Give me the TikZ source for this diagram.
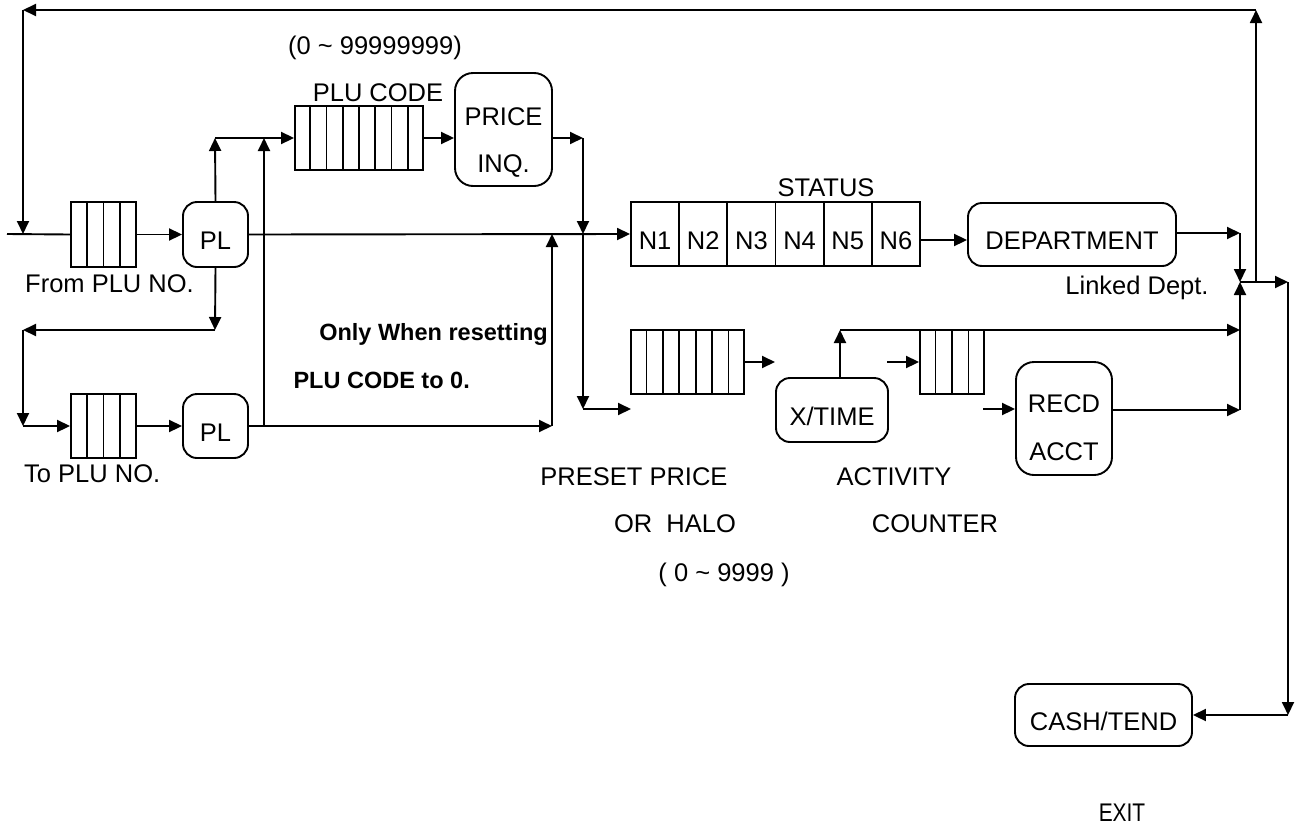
\documentclass[tikz,border=0pt]{standalone}
\usepackage{fontspec}
\setmainfont{Liberation Sans}
\usepackage{graphicx}
\usetikzlibrary{arrows.meta,calc}
\newcommand{\regdiv}[2]{%
  \pgfmathtruncatemacro{\rdlast}{#2-1}%
  \foreach \k in {1,...,\rdlast}{%
    \draw[ln] ($(#1.north west)!\k/#2!(#1.north east)$) -- ($(#1.south west)!\k/#2!(#1.south east)$);}%
}
\begin{document}
\begin{tikzpicture}[x=1pt,y=-1pt,
  every node/.style={font=\fontsize{25.5}{30}\selectfont, inner sep=0pt},
  ln/.style={line width=1.9pt},
  arr/.style={ln, -{Triangle[length=13pt,width=12pt]}},
  reg/.style={draw, line width=1.9pt, minimum height=64pt},
  rbox/.style={draw, line width=1.9pt, rounded corners=14pt, text height=30pt, text depth=0pt},
  cell/.style={reg, minimum width=48.1667pt, text height=30pt, text depth=0pt},
  lbl/.style={text height=18pt, text depth=0pt},
  bld/.style={lbl, font=\fontsize{23.5}{28}\selectfont\bfseries, text height=16.8pt}
]
\useasboundingbox (0,0) rectangle (1295,825);

% ---- boxes and registers
\node[reg, minimum width=65pt, minimum height=65pt] (r1) at (103.5,234.5) {};
\regdiv{r1}{4}
\node[rbox, minimum width=65pt, minimum height=65pt] (pl1) at (215.5,234.5) {PL};
\node[reg, minimum width=65pt, minimum height=64pt] (r2) at (103.5,426) {};
\regdiv{r2}{4}
\node[rbox, minimum width=65pt, minimum height=64pt] (pl2) at (215.5,426) {PL};
\node[reg, minimum width=128pt] (plu) at (359,138) {};
\regdiv{plu}{8}
\node[rbox, rounded corners=18pt, minimum width=97pt, minimum height=113pt] (price) at (503.5,129.5) {};
\node[lbl] (priceA) at (503.5,116) {PRICE};
\node[lbl] (priceB) at (503.5,163) {INQ.};
\foreach \i in {1,...,6}
  \node[cell] (n\i) at ({631+(\i-0.5)*48.1667},234) {N\i};
\node[rbox, minimum width=208pt, minimum height=63pt] (dept) at (1072,234.5) {DEPARTMENT};
\node[reg, minimum width=113pt] (preset) at (687.5,362) {};
\regdiv{preset}{7}
\node[rbox, minimum width=112pt, minimum height=64pt] (xtime) at (832,410) {X/TIME};
\node[reg, minimum width=64pt] (act) at (952,362) {};
\regdiv{act}{4}
\node[rbox, rounded corners=18pt, minimum width=96pt, minimum height=113pt] (recd) at (1064,418.5) {};
\node[lbl] (recdA) at (1064,403) {RECD};
\node[lbl] (recdB) at (1064,451) {ACCT};
\node[rbox, minimum width=177pt, minimum height=62pt] (cash) at (1103.5,715) {CASH/TEND};

% ---- coordinates
\coordinate (in) at (7,234);
\coordinate (jin) at (23,234);
\coordinate (tl) at (23,10);
\coordinate (tr) at (1256,10);
\coordinate (a1) at (215,138);
\coordinate (a2) at (264,138);
\coordinate (a3) at (264,426);
\coordinate (b1) at (215,330);
\coordinate (b2) at (23,330);
\coordinate (b3) at (23,426);
\coordinate (c1) at (552,426);
\coordinate (c2) at (552,234);
\coordinate (d1) at (583,138);
\coordinate (d2) at (583,234);
\coordinate (d3) at (583,409);
\coordinate (d4) at (631,409);
\coordinate (e1) at (775,362);
\coordinate (f1) at (840,330);
\coordinate (f2) at (1240,330);
\coordinate (g1) at (887,362);
\coordinate (h1) at (983,409);
\coordinate (h2) at (1240,410);
\coordinate (k1) at (1240,233);
\coordinate (k2) at (1240,282);
\coordinate (k3) at (1288,282);
\coordinate (k4) at (1256,282);
\coordinate (m1) at (1288,715);

% ---- connectors
\draw[ln] (in) -- (r1.west);
\draw[arr] (r1.east) -- (pl1.west);
\draw[arr] (pl1.east) -- (n1.west);
\draw[arr] (k4) -- (tr);
\draw[arr] (tr) -- (tl);
\draw[arr] (tl) -- (jin);
\draw[arr] (pl1.north) -- (a1);
\draw[arr] (a1) -- (plu.west);
\draw[arr] (a3) -- (a2);
\draw[arr] (pl1.south) -- (b1);
\draw[arr] (b1) -- (b2);
\draw[arr] (b2) -- (b3);
\draw[arr] (b3) -- (r2.west);
\draw[arr] (r2.east) -- (pl2.west);
\draw[arr] (pl2.east) -- (c1);
\draw[arr] (c1) -- (c2);
\draw[arr] (plu.east) -- (plu.east -| price.west);
\draw[arr] (price.east |- d1) -- (d1);
\draw[arr] (d1) -- (d2);
\draw[arr] (d2) -- (d3);
\draw[arr] (d3) -- (d4);
\draw[arr] (preset.east) -- (e1);
\draw[arr] (f1 |- xtime.north) -- (f1);
\draw[arr] (f1) -- (f2);
\draw[arr] (g1) -- (act.west);
\draw[arr] (h1) -- (recd.west |- h1);
\draw[arr] (recd.east |- h2) -- (h2);
\draw[arr] (h2) -- (k2);
\draw[arr] ([yshift=-6pt]n6.east) -- ([yshift=-6pt]n6.east -| dept.west);
\draw[arr] (dept.east |- k1) -- (k1);
\draw[arr] (k1) -- (k2);
\draw[arr] (k2) -- (k3);
\draw[arr] (k3) -- (m1);
\draw[arr] (m1) -- (cash.east |- m1);

% ---- labels
\node[lbl] (t1) at (375,45) {(0 \textasciitilde{} 99999999)};
\node[lbl] (t2) at (378,92) {PLU CODE};
\node[lbl] (t3) at (826,187) {STATUS};
\node[lbl, anchor=west] (t4) at (25,283) {From PLU NO.};
\node[lbl, anchor=west] (t5) at (24,473) {To PLU NO.};
\node[lbl] (t6) at (1137,285) {Linked Dept.};
\node[bld, anchor=east] (t7) at (548,332) {Only When resetting};
\node[bld, anchor=east] (t8) at (470,380) {PLU CODE to 0.};
\node[lbl] (t9) at (634,476) {PRESET PRICE};
\node[lbl] (t10) at (675,523) {OR\ \ HALO};
\node[lbl] (t11) at (724,572) {( 0 \textasciitilde{} 9999 )};
\node[lbl] (t12) at (894,476) {ACTIVITY};
\node[lbl] (t13) at (935,523) {COUNTER};
\node[lbl] (t14) at (1122,812) {\scalebox{0.82}[1]{EXIT}};
\end{tikzpicture}
\end{document}
